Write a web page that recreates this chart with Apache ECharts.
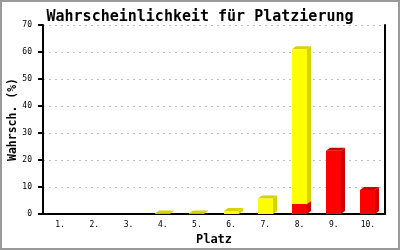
<!DOCTYPE html>
<html><head><meta charset="utf-8">
<script src="https://cdn.jsdelivr.net/npm/echarts@6/dist/echarts.min.js"></script>
<style>html,body{margin:0;padding:0;background:#fff}#c{width:400px;height:250px}</style>
</head><body><div id="c"></div>
<script>
var titleText = 'Wahrscheinlichkeit für Platzierung';
var xName = 'Platz';
var yName = 'Wahrsch. (%)';
var categories = ['1.','2.','3.','4.','5.','6.','7.','8.','9.','10.'];
var yellowValues = [0, 0, 0, 0.2, 0.2, 1.1, 5.7, 57.3, 0, 0];
var redValues = [0, 0, 0, 0, 0, 0, 0, 3.7, 23.4, 8.9];

var font = '"DejaVu Sans Mono", monospace';

function make3D(front, dark) {
  return function (params, api) {
    var idx = api.value(0), v = api.value(1), base = api.value(2);
    if (!(v > 0)) return;
    var p0 = api.coord([idx, base]);
    var p1 = api.coord([idx, base + v]);
    var w = api.size([1, 0])[0] * 0.44;
    var x = Math.round(p0[0] - w / 2);
    w = Math.round(w);
    var yb = p0[1], yt = p1[1];
    var dx = 4, dy = 3;
    return {
      type: 'group',
      children: [
        { type: 'polygon', shape: { points: [[x + w, yt], [x + w + dx, yt - dy], [x + w + dx, yb - dy], [x + w, yb]] }, style: { fill: dark } },
        { type: 'polygon', shape: { points: [[x, yt], [x + dx, yt - dy], [x + w + dx, yt - dy], [x + w, yt]] }, style: { fill: dark } },
        { type: 'rect', shape: { x: x, y: yt, width: w, height: yb - yt }, style: { fill: front } }
      ]
    };
  };
}

var redData = categories.map(function (c, i) { return [i, redValues[i], 0]; });
var yellowData = categories.map(function (c, i) { return [i, yellowValues[i], redValues[i]]; });

var chart = echarts.init(document.getElementById('c'), null, { renderer: 'canvas' });
chart.setOption({
  animation: false,
  backgroundColor: '#fff',
  title: {
    text: titleText, left: 'center', top: 5,
    textStyle: { fontFamily: font, fontSize: 15, fontWeight: 'bold', color: '#000' }
  },
  grid: { left: 43, right: 15, top: 25, bottom: 36, containLabel: false, outerBoundsMode: 'none' },
  xAxis: {
    type: 'category', data: categories,
    name: xName, nameLocation: 'middle', nameGap: 20, nameMoveOverlap: false,
    nameTextStyle: { fontFamily: font, fontSize: 12, fontWeight: 'bold', color: '#000' },
    axisLine: { lineStyle: { color: '#000', width: 2 } },
    axisTick: { show: false },
    axisLabel: { fontFamily: font, fontSize: 8, color: '#000', margin: 7 },
    splitLine: { show: false }
  },
  yAxis: [{
    type: 'value', min: 0, max: 70, interval: 10,
    name: yName, nameLocation: 'middle', nameGap: 24, nameRotate: 90, nameMoveOverlap: false,
    nameTextStyle: { fontFamily: font, fontSize: 11.5, fontWeight: 'bold', color: '#000' },
    axisLine: { show: true, lineStyle: { color: '#000', width: 2 } },
    axisTick: { show: true, length: 5, lineStyle: { color: '#000', width: 2 } },
    axisLabel: { fontFamily: font, fontSize: 8, color: '#000', margin: 11 },
    splitLine: { show: true, lineStyle: { color: '#c0c0c0', type: [2, 4], width: 1 } }
  }, {
    type: 'value', min: 0, max: 70, interval: 10, position: 'right',
    axisLine: { show: true, lineStyle: { color: '#000', width: 2 } },
    axisTick: { show: false }, axisLabel: { show: false }, splitLine: { show: false }
  }],
  graphic: [{
    type: 'rect', shape: { x: 1, y: 1, width: 398, height: 248 },
    style: { fill: 'none', stroke: '#999', lineWidth: 2 }, z: 100
  }],
  series: [
    { type: 'custom', name: 'rot', data: redData, encode: { x: 0, y: 1 }, renderItem: make3D('#ff0000', '#cc0000'), z: 2 },
    { type: 'custom', name: 'gelb', data: yellowData, encode: { x: 0, y: 1 }, renderItem: make3D('#ffff00', '#d4d400'), z: 3 }
  ]
});
</script>
</body></html>
